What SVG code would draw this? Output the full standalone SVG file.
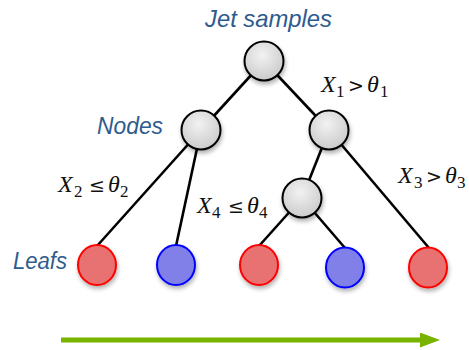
<svg xmlns="http://www.w3.org/2000/svg" width="469" height="350" viewBox="0 0 469 350">
<style>
.lbl{font-family:"Liberation Sans",Arial,sans-serif;font-style:italic;fill:#2E5B8E}
.math{font-family:"Liberation Serif","DejaVu Serif",serif;font-size:24px;fill:#111}
.it{font-style:italic}
.sub{font-size:17px}
.op{font-family:"DejaVu Serif",serif;font-size:19px}
.edge{stroke:#000;stroke-width:2.6;fill:none}
.node{fill:url(#g);stroke:#000;stroke-width:2;filter:url(#sh)}
.red{fill:#E87171;stroke:#FF0000;stroke-width:2;filter:url(#sh)}
.blue{fill:#8080E8;stroke:#0000FF;stroke-width:2;filter:url(#sh)}
</style>
<defs>
<radialGradient id="g" cx="0.45" cy="0.35" r="0.7">
<stop offset="0" stop-color="#f2f2f2"/>
<stop offset="1" stop-color="#c8c8c8"/>
</radialGradient>
<filter id="sh" x="-30%" y="-30%" width="160%" height="170%">
<feDropShadow dx="1" dy="3" stdDeviation="2" flood-color="#000" flood-opacity="0.3"/>
</filter>
<marker id="ah" markerWidth="4" markerHeight="3" refX="0" refY="1.5" orient="auto" markerUnits="strokeWidth">
<path d="M0,0 L4,1.5 L0,3 Z" fill="#77B300"/>
</marker>
</defs>

<g id="connectors">
<line class="edge" x1="264" y1="61" x2="201" y2="130"/>
<line class="edge" x1="264" y1="61" x2="329" y2="130"/>
<line class="edge" x1="201" y1="130" x2="97" y2="246"/>
<line class="edge" x1="201" y1="130" x2="176" y2="246"/>
<line class="edge" x1="329" y1="130" x2="302" y2="198"/>
<line class="edge" x1="329" y1="130" x2="429" y2="248"/>
<line class="edge" x1="302" y1="198" x2="259" y2="246"/>
<line class="edge" x1="302" y1="198" x2="345" y2="248"/>
</g>

<g id="root"><circle class="node" cx="264" cy="61" r="19.5"/></g>
<g id="nodeL"><circle class="node" cx="201" cy="130" r="19.5"/></g>
<g id="nodeR"><circle class="node" cx="329" cy="130" r="19.5"/></g>
<g id="nodeLow"><circle class="node" cx="302" cy="198" r="19.5"/></g>

<g id="leaf1"><ellipse class="red" cx="97" cy="265" rx="19" ry="20"/></g>
<g id="leaf2"><ellipse class="blue" cx="176" cy="265" rx="19" ry="20"/></g>
<g id="leaf3"><ellipse class="red" cx="259" cy="265" rx="19" ry="20"/></g>
<g id="leaf4"><ellipse class="blue" cx="345" cy="267.5" rx="19" ry="20"/></g>
<g id="leaf5"><ellipse class="red" cx="428" cy="267.5" rx="19" ry="20"/></g>

<g id="labels">
<text class="lbl" x="205" y="27" font-size="24" textLength="127" lengthAdjust="spacingAndGlyphs">Jet samples</text>
<text class="lbl" x="97" y="134" font-size="23" textLength="66" lengthAdjust="spacingAndGlyphs">Nodes</text>
<text class="lbl" x="13" y="269" font-size="23" textLength="54" lengthAdjust="spacingAndGlyphs">Leafs</text>
</g>

<g id="conditions">
<text class="math" y="92"><tspan class="it" x="321">X</tspan><tspan class="sub" x="336" dy="5">1</tspan><tspan class="op" x="348" dy="-5">&gt;</tspan><tspan class="it" x="367">θ</tspan><tspan class="sub" x="380" dy="5">1</tspan></text>
<text class="math" y="192"><tspan class="it" x="58">X</tspan><tspan class="sub" x="74" dy="5">2</tspan><tspan class="op" x="89" dy="-5">≤</tspan><tspan class="it" x="108">θ</tspan><tspan class="sub" x="120" dy="5">2</tspan></text>
<text class="math" y="213"><tspan class="it" x="197">X</tspan><tspan class="sub" x="212" dy="5">4</tspan><tspan class="op" x="228" dy="-5">≤</tspan><tspan class="it" x="247">θ</tspan><tspan class="sub" x="259" dy="5">4</tspan></text>
<text class="math" y="183"><tspan class="it" x="398">X</tspan><tspan class="sub" x="414" dy="5">3</tspan><tspan class="op" x="426" dy="-5">&gt;</tspan><tspan class="it" x="445">θ</tspan><tspan class="sub" x="457" dy="5">3</tspan></text>
</g>

<g id="arrow">
<line x1="61" y1="340" x2="420" y2="340" stroke="#77B300" stroke-width="5" marker-end="url(#ah)"/>
</g>
</svg>
